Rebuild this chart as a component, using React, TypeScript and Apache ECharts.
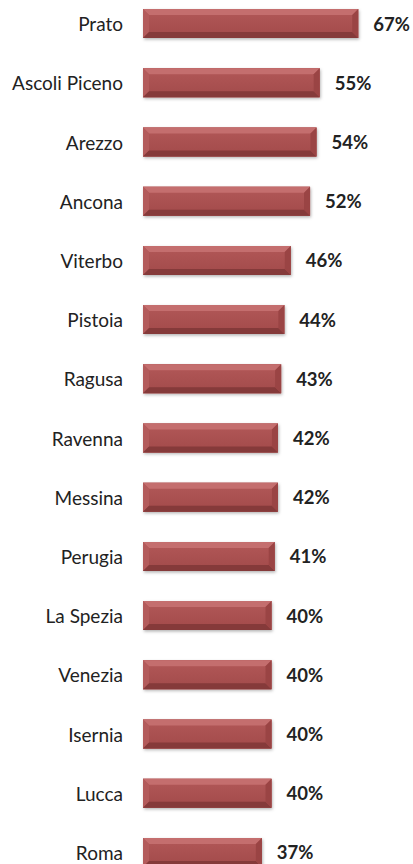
import React, { useEffect, useRef } from "react";
import * as echarts from "echarts";

const categories = [
  "Prato", "Ascoli Piceno", "Arezzo", "Ancona", "Viterbo", "Pistoia", "Ragusa",
  "Ravenna", "Messina", "Perugia", "La Spezia", "Venezia", "Isernia", "Lucca", "Roma",
];
const values = [67, 55, 54, 52, 46, 44, 43, 42, 42, 41, 40, 40, 40, 40, 37];

const BAR_H = 29;
const BEVEL = 6;

export default function App() {
  const ref = useRef<HTMLDivElement>(null);
  useEffect(() => {
    if (!ref.current) return;
    const chart = echarts.init(ref.current, null, { renderer: "svg" });
    const fontFamily = "Lato, 'Open Sans', sans-serif";
    chart.setOption({
      animation: false,
      backgroundColor: "#ffffff",
      grid: { left: 143, width: 257, top: 0, bottom: 0, containLabel: false },
      xAxis: { type: "value", min: 0, max: 80, show: false },
      yAxis: {
        type: "category",
        data: categories,
        inverse: true,
        axisLine: { show: false },
        axisTick: { show: false },
        splitLine: { show: false },
        axisLabel: { margin: 20, fontSize: 19, color: "#222222", fontFamily },
      },
      series: [
        {
          type: "bar",
          data: values,
          barWidth: BAR_H,
          itemStyle: {
            color: "#a84f4f",
            shadowColor: "rgba(0,0,0,0.3)",
            shadowBlur: 3,
            shadowOffsetX: 1,
            shadowOffsetY: 1.5,
          },
          label: {
            show: true,
            position: "right",
            distance: 15,
            formatter: "{c}%",
            fontSize: 18.5,
            fontWeight: "bold",
            color: "#222222",
            fontFamily,
          },
        },
        {
          type: "custom",
          z: 5,
          silent: true,
          encode: { x: 0, y: 1 },
          data: values.map((v, i) => [v, i]),
          renderItem: (params: any, api: any) => {
            const idx = api.value(1);
            const p0 = api.coord([0, idx]);
            const p1 = api.coord([api.value(0), idx]);
            const x0 = p0[0];
            const x1 = p1[0];
            const y0 = p0[1] - BAR_H / 2;
            const y1 = p0[1] + BAR_H / 2;
            const b = BEVEL;
            return {
              type: "group",
              children: [
                {
                  type: "rect",
                  shape: { x: x0, y: y0, width: x1 - x0, height: y1 - y0 },
                  style: {
                    fill: new echarts.graphic.LinearGradient(0, 0, 0, 1, [
                      { offset: 0, color: "#b25858" },
                      { offset: 1, color: "#a24a4a" },
                    ]),
                  },
                },
                {
                  type: "polygon",
                  shape: { points: [[x0, y0], [x1, y0], [x1 - b, y0 + b], [x0 + b, y0 + b]] },
                  style: { fill: "#c46e6e" },
                },
                {
                  type: "polygon",
                  shape: { points: [[x0, y0], [x0 + b, y0 + b], [x0 + b, y1 - b], [x0, y1]] },
                  style: { fill: "#b35b5b" },
                },
                {
                  type: "polygon",
                  shape: { points: [[x0, y1], [x0 + b, y1 - b], [x1 - b, y1 - b], [x1, y1]] },
                  style: { fill: "#853a3a" },
                },
                {
                  type: "polygon",
                  shape: { points: [[x1, y0], [x1, y1], [x1 - b, y1 - b], [x1 - b, y0 + b]] },
                  style: { fill: "#9a4444" },
                },
              ],
            };
          },
        },
      ],
    });
    return () => chart.dispose();
  }, []);
  return (
    <div
      ref={ref}
      style={{ position: "fixed", left: 0, top: -6, width: 413, height: 888 }}
    />
  );
}
